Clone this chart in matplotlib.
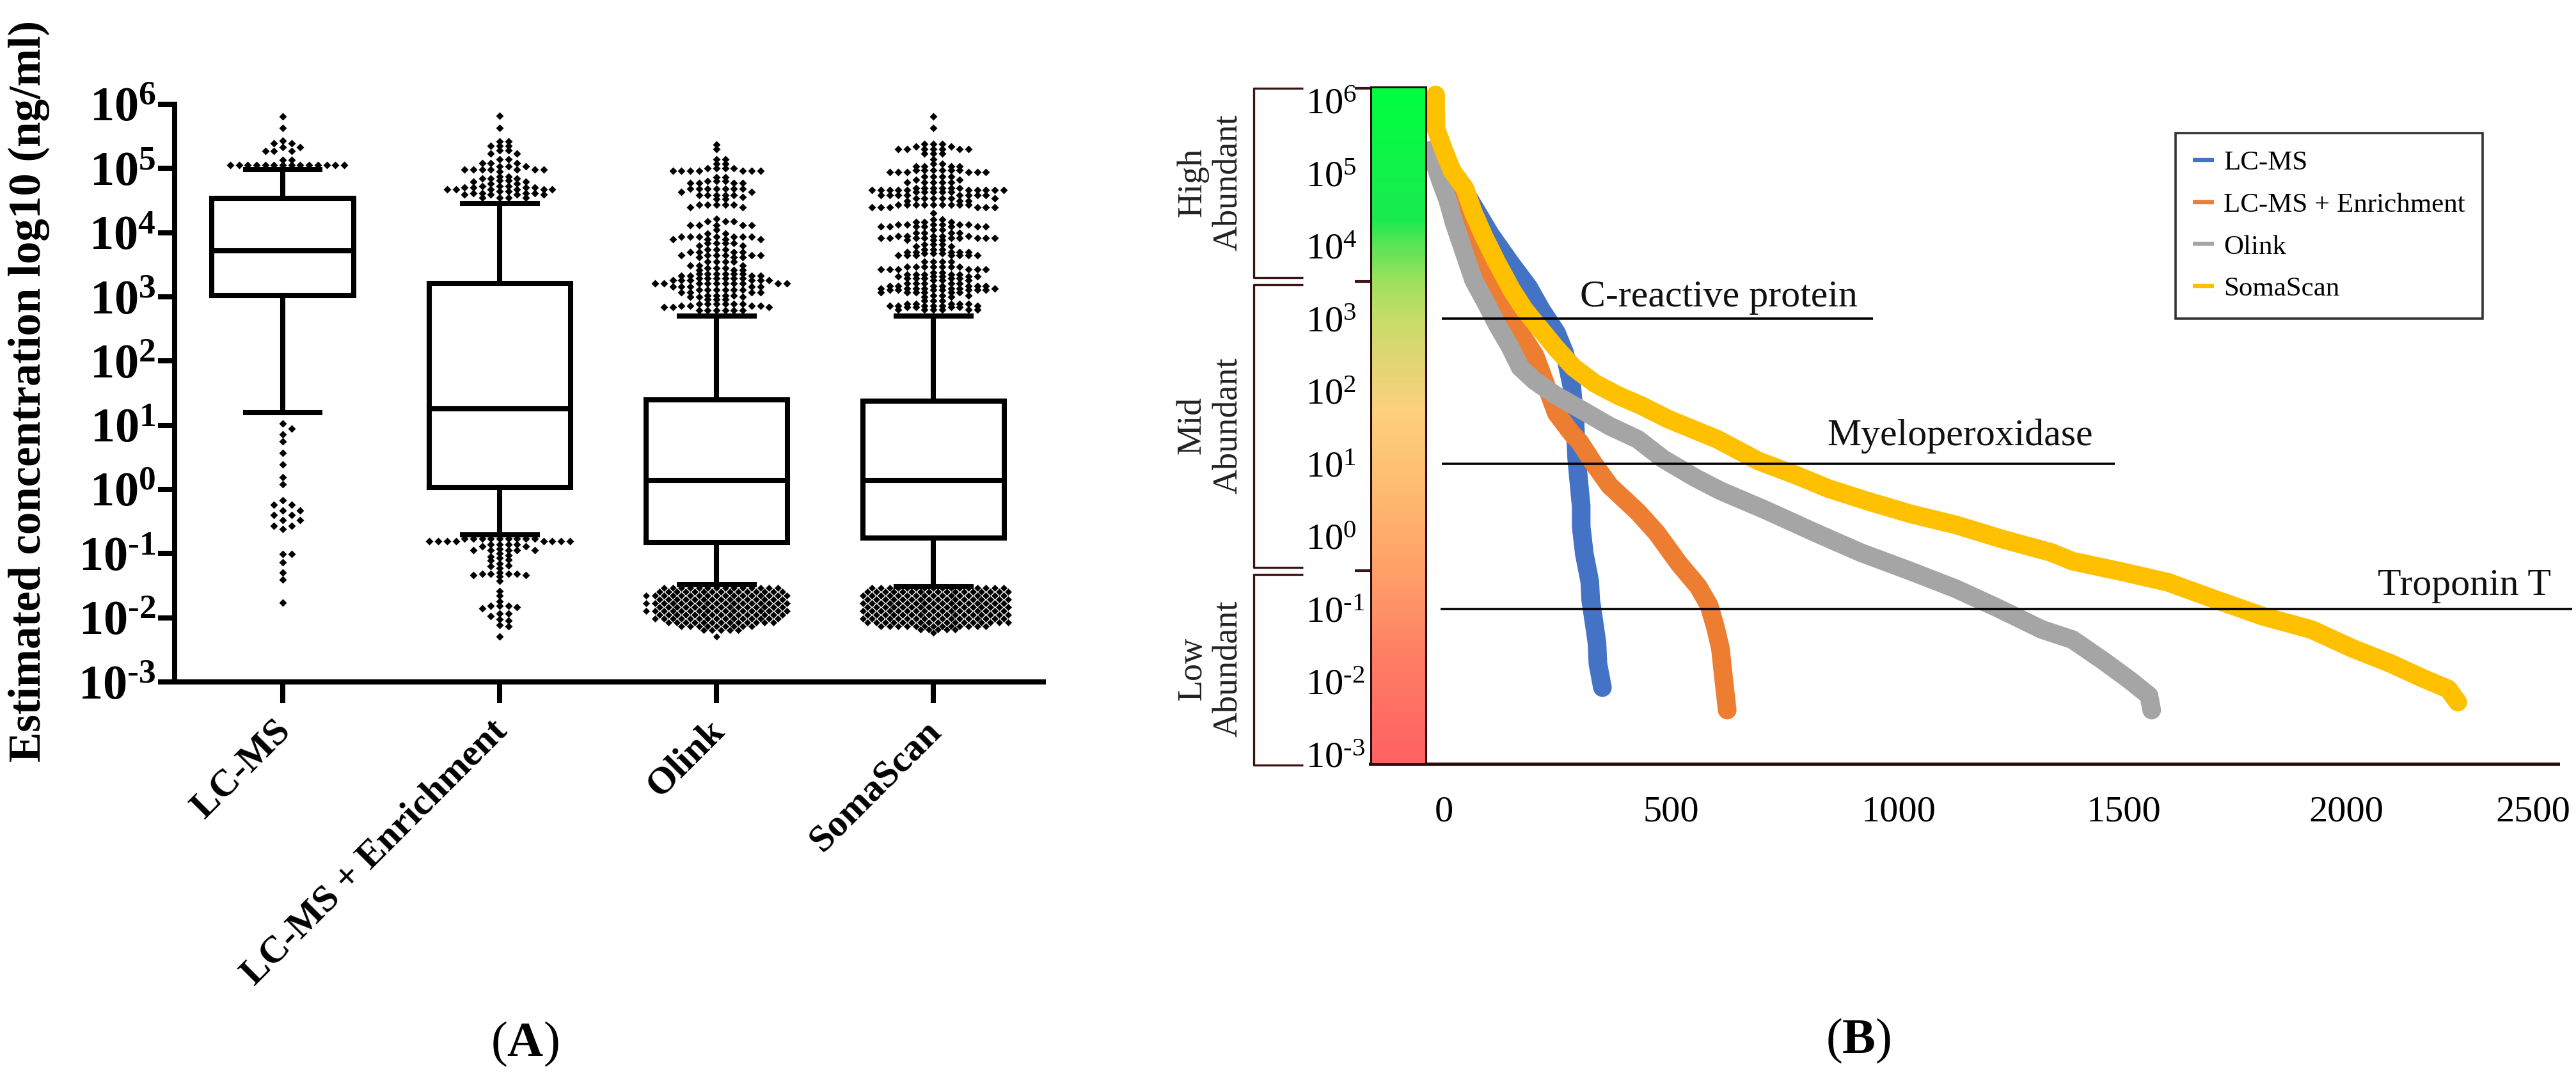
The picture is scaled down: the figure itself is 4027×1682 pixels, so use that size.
import numpy as np
import matplotlib
matplotlib.use('Agg')
import matplotlib.pyplot as plt
from matplotlib.colors import LinearSegmentedColormap
from matplotlib.lines import Line2D
from matplotlib.transforms import ScaledTranslation

plt.rcParams['font.family'] = ['Liberation Serif', 'DejaVu Serif']
plt.rcParams['mathtext.fontset'] = 'custom'
plt.rcParams['mathtext.rm'] = 'Liberation Serif'
plt.rcParams['mathtext.bf'] = 'Liberation Serif:bold'
plt.rcParams['mathtext.it'] = 'Liberation Serif:italic'

W, H = 4027, 1682

# panel A, everything in log10(ng/ml)
platforms = ['LC-MS', 'LC-MS + Enrichment', 'Olink', 'SomaScan']
q1 = [3.02, 0.03, -0.83, -0.76]
median = [3.72, 1.26, 0.14, 0.14]
q3 = [4.53, 3.21, 1.40, 1.38]
whisker_lo = [1.20, -0.71, -1.49, -1.51]
whisker_hi = [4.98, 4.46, 2.70, 2.70]

# outliers, read row by row: level and how many dots sit on it
lcms_hi_levels = [5.81, 5.63, 5.43, 5.39, 5.33, 5.27, 5.13, 5.05]
lcms_hi_counts = [1, 1, 1, 2, 2, 3, 2, 14]
lcms_lo_levels = [1.03, 0.95, 0.86, 0.75, 0.57, 0.39, 0.19, 0.08, -0.17, -0.24, -0.33,
                  -0.40, -0.48, -0.57, -0.62, -1.01, -1.14, -1.30, -1.41, -1.76]
lcms_lo_counts = [1, 1, 1, 1, 1, 1, 1, 1, 1, 2, 2, 2, 2, 2, 1, 2, 1, 1, 1, 1]

enrich_hi_levels = [5.82, 5.63, 5.42, 5.35, 5.28, 5.23, 5.14, 5.08, 5.03, 4.98, 4.95, 4.87, 4.84,
                    4.81, 4.79, 4.76, 4.72, 4.70, 4.67, 4.64, 4.61, 4.59, 4.54]
enrich_hi_counts = [1, 1, 2, 3, 2, 2, 2, 3, 3, 7, 1, 2, 3, 2, 2, 2, 3, 4, 6, 2, 4, 4, 4]
enrich_lo_levels = [-0.77, -0.81, -0.86, -0.89, -0.93, -0.95, -1.00, -1.03, -1.05, -1.07, -1.10, -1.11,
                    -1.16, -1.19, -1.20, -1.23, -1.30, -1.32, -1.34, -1.36, -1.43, -1.585, -1.65,
                    -1.745, -1.81, -1.83, -1.855, -1.93, -1.97, -2.02, -2.04, -2.11, -2.13, -2.29]
enrich_lo_counts = [9, 8, 4, 2, 1, 5, 1, 1, 1, 1, 1, 1, 1, 1, 1, 1, 1, 4, 2, 1, 1, 1, 1, 1, 3, 1, 1, 2, 1, 1, 1, 1, 1, 1]

olink_hi_levels = [5.37, 5.30, 5.14, 5.07, 5.00, 4.96, 4.86, 4.80, 4.77, 4.68, 4.63, 4.58, 4.55, 4.52,
                   4.44, 4.40, 4.22, 4.18, 4.12, 4.05, 3.99, 3.94, 3.90, 3.84, 3.80, 3.74, 3.70, 3.65,
                   3.62, 3.55, 3.49, 3.45, 3.42, 3.36, 3.33, 3.29, 3.26, 3.21, 3.16, 3.11, 3.07, 3.02,
                   3.00, 2.96, 2.89, 2.86, 2.84, 2.79]
olink_hi_counts = [1, 1, 2, 2, 4, 7, 2, 3, 4, 7, 2, 5, 1, 2, 5, 2, 1, 3, 5, 1, 2, 7, 4, 4, 2, 3, 4, 6,
                   3, 4, 3, 3, 3, 6, 4, 6, 6, 10, 5, 6, 4, 4, 3, 3, 6, 4, 3, 6]
olink_lo_rows = [-1.53, -1.59, -1.65, -1.71, -1.77, -1.83, -1.89, -1.95, -2.01, -2.07, -2.13, -2.19, -2.29]
olink_lo_counts = [14, 15, 17, 15, 17, 15, 17, 15, 15, 13, 9, 5, 1]

soma_hi_levels = [5.81, 5.63, 5.38, 5.34, 5.30, 5.23, 5.14, 5.07, 5.03, 4.97, 4.94, 4.87, 4.82, 4.78,
                  4.69, 4.66, 4.63, 4.58, 4.53, 4.50, 4.44, 4.40, 4.31, 4.21, 4.17, 4.13, 4.10, 4.05,
                  4.00, 3.95, 3.92, 3.89, 3.82, 3.79, 3.74, 3.70, 3.68, 3.65, 3.55, 3.47, 3.43, 3.38,
                  3.35, 3.32, 3.29, 3.26, 3.21, 3.17, 3.13, 3.11, 3.07, 3.02, 3.00, 2.94, 2.89, 2.86,
                  2.84, 2.80]
soma_hi_counts = [1, 1, 3, 2, 7, 3, 1, 2, 4, 6, 6, 4, 2, 5, 6, 10, 5, 8, 6, 3, 9, 6, 1, 2, 3, 6, 7, 2,
                  4, 5, 9, 3, 3, 2, 3, 5, 3, 7, 4, 7, 6, 2, 5, 5, 5, 3, 5, 7, 7, 7, 6, 3, 2, 3, 5, 6, 4, 6]
soma_lo_rows = [-1.53, -1.59, -1.65, -1.71, -1.77, -1.83, -1.89, -1.95, -2.01, -2.07, -2.13, -2.18, -2.23]
soma_lo_counts = [16, 17, 17, 17, 17, 17, 17, 17, 17, 17, 13, 5, 1]

# panel B, rank vs log10(ng/ml)
lcms_rank = [14, 61, 103, 146, 188, 216, 249, 268, 283, 290, 294, 301, 304, 304, 311, 323, 325, 334, 339, 341, 351]
lcms_log = [5.07, 4.60, 4.16, 3.78, 3.43, 3.12, 2.81, 2.52, 2.08, 1.61, 1.08, 0.61, 0.42, 0.14, -0.24, -0.62, -0.87, -1.25, -1.47, -1.75, -2.08]
enrich_rank = [14, 80, 113, 150, 202, 249, 283, 301, 330, 367, 410, 429, 471, 520, 563, 587, 601, 612, 619, 627]
enrich_log = [5.07, 3.88, 3.43, 2.99, 2.49, 1.70, 1.42, 1.30, 1.02, 0.70, 0.45, 0.34, 0.05, -0.37, -0.69, -0.95, -1.25, -1.54, -1.95, -2.39]
olink_rank = [-29, -10, 9, 23, 47, 66, 94, 117, 146, 169, 202, 249, 306, 367, 429, 485, 556, 612, 710, 823, 922,
              1034, 1133, 1224, 1323, 1391, 1461, 1518, 1560, 1566]
olink_log = [5.32, 4.95, 4.63, 4.32, 3.88, 3.53, 3.21, 2.93, 2.62, 2.33, 2.14, 1.94, 1.74, 1.52, 1.34, 1.07, 0.81, 0.63, 0.37, 0.05, -0.22,
             -0.48, -0.72, -0.98, -1.28, -1.42, -1.72, -1.98, -2.19, -2.39]
soma_rank = [-18, -18, -17, 0, 18, 47, 65, 89, 117, 150, 179, 212, 249, 287, 334, 386, 438, 499, 605, 696, 781, 851, 936,
             1034, 1133, 1238, 1344, 1391, 1497, 1602, 1708, 1813, 1919, 2010, 2095, 2165, 2222, 2243]
soma_log = [6.08, 5.89, 5.61, 5.32, 5.04, 4.79, 4.47, 4.13, 3.78, 3.40, 3.12, 2.87, 2.59, 2.33, 2.11, 1.94, 1.80, 1.61, 1.34, 1.04, 0.84, 0.66, 0.49,
            0.31, 0.16, -0.04, -0.22, -0.34, -0.48, -0.63, -0.87, -1.10, -1.28, -1.54, -1.75, -1.95, -2.10, -2.28]

marker_names = ['C-reactive protein', 'Myeloperoxidase', 'Troponin T']
marker_levels = [1e3, 1e1, 1e-1]
marker_ends = [950, 1484, 2496]

curve_colors = ['#4472c4', '#ed7d31', '#a5a5a5', '#ffc000']


def axes_rect(left, top, right, bottom):
    return [left / W, 1 - bottom / H, (right - left) / W, (bottom - top) / H]


def fig_line(fig, xs, ys, color, lw):
    xs = [x / W for x in xs]
    ys = [1 - y / H for y in ys]
    fig.add_artist(Line2D(xs, ys, color=color, lw=lw, solid_capstyle='butt', transform=fig.transFigure))


def swarm(levels, counts, gap, stagger=False):
    # beeswarm: next free column from the centre outwards
    columns = {}
    out_col = []
    out_val = []
    for r, (lev, n) in enumerate(zip(levels, counts)):
        for i in range(n):
            c = 0
            while True:
                taken = columns.get(c, [])
                if all(abs(lev - t) >= gap for t in taken):
                    break
                c = -c if c > 0 else -c + 1
            columns.setdefault(c, []).append(lev)
            out_col.append(c + 0.5 * (r % 2) if stagger else c)
            out_val.append(lev)
    return np.array(out_col), np.array(out_val)


def draw_panel_a(fig):
    ax = fig.add_axes(axes_rect(273, 163, 1631, 1066))
    ax.set_yscale('log')
    ax.set_xlim(0.5015, 4.507)
    ax.set_ylim(1e-3, 1e6)
    ax.patch.set_alpha(0)

    step = 13.7 / 339.0
    groups = [(1, lcms_hi_levels, lcms_hi_counts, 0.07, False), (1, lcms_lo_levels, lcms_lo_counts, 0.095, False),
              (2, enrich_hi_levels, enrich_hi_counts, 0.06, False), (2, enrich_lo_levels, enrich_lo_counts, 0.06, False),
              (3, olink_hi_levels, olink_hi_counts, 0.06, False), (3, olink_lo_rows, olink_lo_counts, 0.035, True),
              (4, soma_hi_levels, soma_hi_counts, 0.05, False), (4, soma_lo_rows, soma_lo_counts, 0.035, True)]
    for pos, levels, counts, gap, stagger in groups:
        cols, vals = swarm(levels, counts, gap, stagger)
        # the packed rows at the bottom keep a thin white edge, that gives the cross hatch
        edge = 'white' if stagger else 'none'
        ax.plot(pos + cols * step, 10.0 ** vals, ls='none', marker='D', ms=5.8, mfc='black', mec=edge, mew=0.5, zorder=2)

    stats = []
    for i in range(4):
        stats.append({'med': 10.0 ** median[i], 'q1': 10.0 ** q1[i], 'q3': 10.0 ** q3[i],
                      'whislo': 10.0 ** whisker_lo[i], 'whishi': 10.0 ** whisker_hi[i], 'fliers': []})
    line = {'color': 'black', 'lw': 5.8}
    ax.bxp(stats, positions=[1, 2, 3, 4], widths=0.652, capwidths=0.345, showfliers=False,
           boxprops=dict(line, solid_joinstyle='miter'), medianprops=dict(line, solid_capstyle='butt'),
           whiskerprops=line, capprops=line, zorder=3)

    for s in ['top', 'right']:
        ax.spines[s].set_visible(False)
    for s in ['left', 'bottom']:
        ax.spines[s].set_linewidth(5.8)
        ax.spines[s].set_capstyle('projecting')

    ax.set_yticks([10.0 ** e for e in range(-3, 7)])
    ax.set_yticklabels([r'$\mathbf{10^{%s}}$' % (str(e) if e >= 0 else r'\text{-}%d' % -e) for e in range(-3, 7)], fontsize=55)
    ax.minorticks_off()
    ax.tick_params(axis='y', which='major', length=19, width=5.8, pad=2)
    ax.set_xticks([1, 2, 3, 4])
    ax.set_xticklabels(platforms, fontsize=43, fontweight='bold', rotation=45, ha='right', va='top', rotation_mode='anchor')
    ax.tick_params(axis='x', length=24, width=5.8, pad=12)
    shift = ScaledTranslation(-15 / 100, 0, fig.dpi_scale_trans)
    for lab in ax.get_xticklabels():
        lab.set_transform(lab.get_transform() + shift)

    ax.set_ylabel('Estimated concentration log10 (ng/ml)', fontsize=51, fontweight='bold')
    ax.yaxis.set_label_coords(78 / W, 1 - 611 / H, transform=fig.transFigure)
    fig.text(820 / W, 1 - 1632 / H, r'($\mathbf{A}$)', fontsize=56, ha='center', va='center')


def draw_panel_b(fig):
    ax = fig.add_axes(axes_rect(2142, 136, 3999, 1194))
    ax.set_yscale('log')
    ax.set_xlim(-162.7, 2465)
    ax.set_ylim(10.0 ** -3.13, 10.0 ** 6.19)
    ax.patch.set_alpha(0)

    series = [(lcms_rank, lcms_log), (enrich_rank, enrich_log), (olink_rank, olink_log), (soma_rank, soma_log)]
    for (rank, level), color in zip(series, curve_colors):
        ax.plot(rank, 10.0 ** np.array(level), color=color, lw=21, solid_capstyle='round', solid_joinstyle='round', clip_on=False, zorder=2)

    for name, level, end in zip(marker_names, marker_levels, marker_ends):
        start = -7 if end > 2000 else -4
        ax.plot([start, end], [level, level], color='black', lw=2.6, clip_on=False, zorder=3, solid_capstyle='butt')

    exps = list(range(-3, 7))
    ax.set_yticks([10.0 ** e for e in exps])
    ax.set_yticklabels([r'$\mathregular{10^{%s}}$' % (str(e) if e >= 0 else r'\text{-}%d' % -e) for e in exps], fontsize=42, ha='left')
    ax.minorticks_off()
    ax.tick_params(axis='y', length=0, pad=73)

    # the printed x labels are not evenly spaced
    ax.set_xticks([0, 503, 1006, 1504, 1997, 2409])
    ax.set_xticklabels(['0', '500', '1000', '1500', '2000', '2500'], fontsize=42)
    ax.tick_params(axis='x', length=0, pad=36)

    for s in ['top', 'right', 'left']:
        ax.spines[s].set_visible(False)
    ax.spines['bottom'].set_linewidth(3.6)
    ax.spines['bottom'].set_color('#2a0a0a')

    # colour scale next to the axis
    bar = fig.add_axes(axes_rect(2143, 136, 2229, 1194), zorder=5)
    cmap = LinearSegmentedColormap.from_list('abundance', [
        (0.0, (0.0, 1.0, 0.25)), (0.195, (0.10, 0.92, 0.31)), (0.225, (0.31, 0.90, 0.33)),
        (0.288, (0.63, 0.88, 0.37)), (0.343, (0.78, 0.87, 0.41)), (0.40, (0.88, 0.84, 0.45)),
        (0.475, (0.99, 0.82, 0.49)), (0.58, (1.0, 0.745, 0.45)), (0.715, (1.0, 0.63, 0.41)),
        (0.85, (1.0, 0.49, 0.39)), (1.0, (1.0, 0.38, 0.39))])
    bar.imshow(np.linspace(0, 1, 512).reshape(-1, 1), aspect='auto', cmap=cmap, vmin=0, vmax=1)
    bar.set_xticks([])
    bar.set_yticks([])
    for s in bar.spines.values():
        s.set_linewidth(2.2)
        s.set_color('#2a0a0a')

    # brackets for the abundance classes
    brown = '#3a1414'
    for top, bottom in [(138, 434), (445, 887), (898, 1196)]:
        fig_line(fig, [2037, 1960, 1960, 2037], [top, top, bottom, bottom], brown, 2.4)
    for y in [138, 440, 892]:
        fig_line(fig, [2118, 2143], [y, y], brown, 3.0)

    for label, y in [('High', 285), ('Mid', 665), ('Low', 1045)]:
        fig.text(1864 / W, 1 - y / H, label, fontsize=39, rotation=90, ha='center', va='center', color='#222222')
        fig.text(1921 / W, 1 - y / H, 'Abundant', fontsize=39, rotation=90, ha='center', va='center', color='#222222')

    for name, x, y in [('C-reactive protein', 2687, 465), ('Myeloperoxidase', 3064, 682), ('Troponin T', 3852, 916)]:
        fig.text(x / W, 1 - y / H, name, fontsize=43, ha='center', va='center', color='#111111')

    handles = [Line2D([], [], color=c, lw=4.6, solid_capstyle='butt') for c in curve_colors]
    leg = ax.legend(handles, platforms, loc='upper left', bbox_to_anchor=(3401 / W, 1 - 208 / H),
                    bbox_transform=fig.transFigure, fontsize=31, handlelength=0.78, handletextpad=0.35,
                    labelspacing=0.62, borderaxespad=0, borderpad=0.62, frameon=True, fancybox=False)
    leg.get_frame().set_edgecolor('black')
    leg.get_frame().set_linewidth(2.6)
    leg.set_zorder(6)
    fig.text(2905 / W, 1 - 1627 / H, r'($\mathbf{B}$)', fontsize=56, ha='center', va='center')


if __name__ == '__main__':
    fig = plt.figure(figsize=(W / 100, H / 100), dpi=100)
    draw_panel_a(fig)
    draw_panel_b(fig)
    fig.savefig('out.png', dpi=100)
